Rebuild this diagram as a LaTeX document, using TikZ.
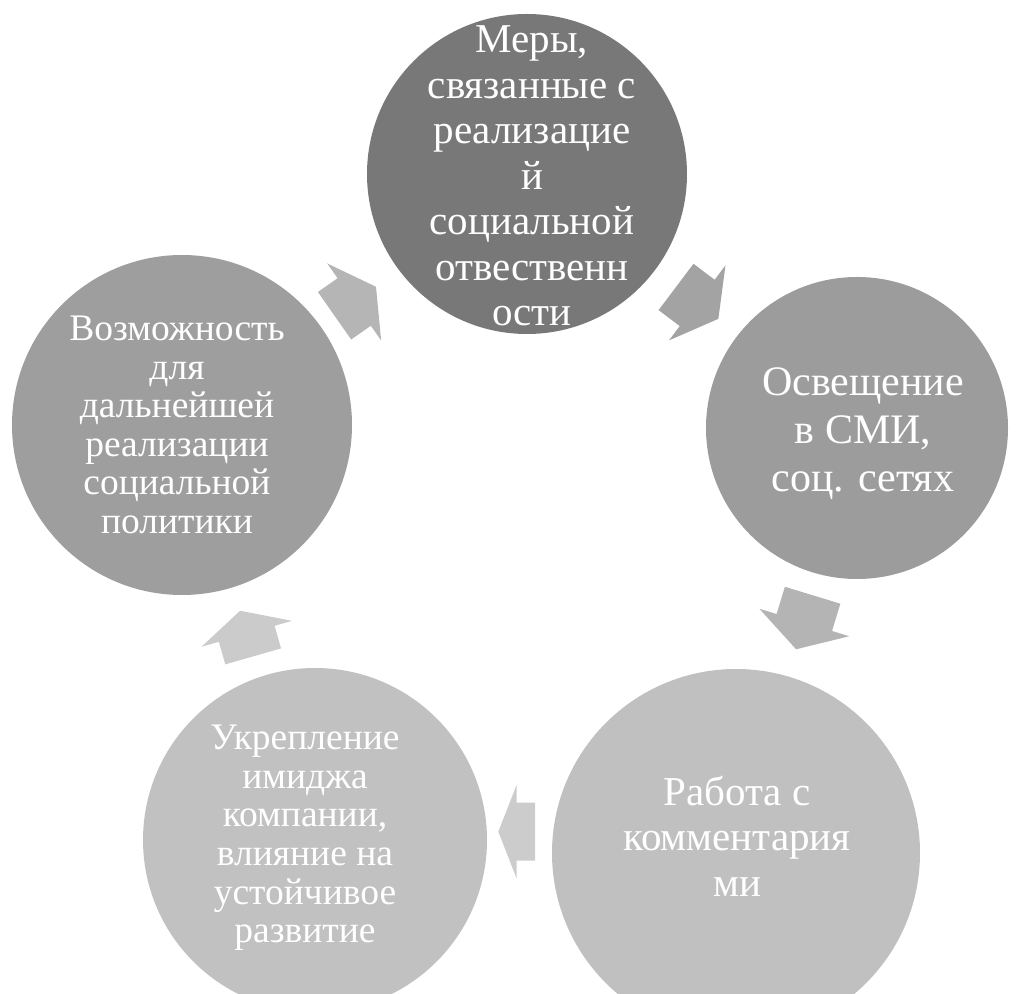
\documentclass[tikz,border=0pt]{standalone}
\usepackage{fontspec}
\setmainfont{Liberation Serif}
\definecolor{cA}{HTML}{787878}
\definecolor{cB}{HTML}{9C9C9C}
\definecolor{cC}{HTML}{C0C0C0}
\definecolor{cD}{HTML}{C1C1C1}
\definecolor{cE}{HTML}{9E9E9E}
\definecolor{aA}{HTML}{A3A3A3}
\definecolor{aB}{HTML}{B4B4B4}
\definecolor{aC}{HTML}{CCCCCC}
\definecolor{aD}{HTML}{CBCBCB}
\definecolor{aE}{HTML}{B5B5B5}
\begin{document}
\begin{tikzpicture}[x=1pt,y=1pt,
  bubble/.style={circle, draw=none, inner sep=0pt},
  btext/.style={text=white, align=center, inner sep=0pt},
  big/.style={font=\fontsize{41}{45.5}\selectfont},
  mid/.style={font=\fontsize{42}{48}\selectfont},
  small/.style={font=\fontsize{37.5}{38.6}\selectfont},
  pics/blockarrow/.style 2 args={code={
    \fill (-#2,-29) -- (0,-29) -- (0,-47) -- (#1,0) -- (0,47) -- (0,29)
      -- (-#2,29) -- cycle;}}]
\useasboundingbox (0,0) rectangle (1021,994);
% circles
\node[bubble, fill=cA, minimum size=320pt] (c1) at (527,820) {};
\node[bubble, fill=cB, minimum size=302pt] (c2) at (857,566) {};
\node[bubble, fill=cC, minimum size=368pt] (c3) at (736,141) {};
\node[bubble, fill=cD, minimum size=344pt] (c4) at (315,154) {};
\node[bubble, fill=cE, minimum size=340pt] (c5) at (182,569) {};
% block arrows (head base centre, direction)
\pic[color=aA, rotate=-37] (a1) at (697.2,691.1) {blockarrow={26.5}{26.5}};
\pic[color=aB, rotate=-107] (a2) at (804.3,371.5) {blockarrow={28}{28.5}};
\pic[color=aC, rotate=180] (a3) at (516.7,162.3) {blockarrow={18.4}{18.3}};
\pic[color=aD, rotate=106] (a4) at (246.7,360.2) {blockarrow={24}{23.5}};
\pic[color=aE, rotate=35] (a5) at (354.2,692) {blockarrow={26.6}{24}};
% texts
\node[btext,big] (t1) at (532,818) {Меры,\\связанные с\\реализацие\\й\\социальной\\отвественн\\ости};
\node[btext,mid] (t2) at (863,560) {Освещение\\в СМИ,\\соц. сетях};
\node[btext,big] (t3) at (737,158) {Работа с\\комментария\\ми};
\node[btext,small] (t4) at (305,156) {Укрепление\\имиджа\\компании,\\влияние на\\устойчивое\\развитие};
\node[btext,small] (t5) at (177,569) {Возможность\\для\\дальнейшей\\реализации\\социальной\\политики};
\end{tikzpicture}
\end{document}
